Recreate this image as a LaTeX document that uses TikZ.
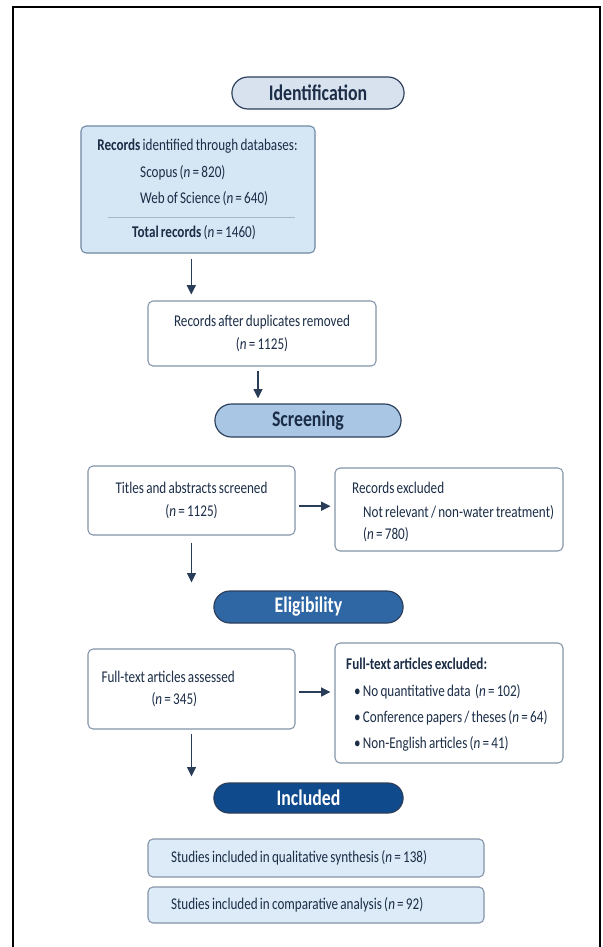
\documentclass[tikz,border=0pt]{standalone}
\usepackage{fontspec}
\setmainfont{Carlito}[FakeStretch=0.8, WordSpace=0.75]
\usetikzlibrary{positioning,shapes,arrows.meta,calc}

\definecolor{textnavy}{HTML}{1B2D47}
\definecolor{pillline}{HTML}{2B3E5A}
\definecolor{identfill}{HTML}{D8E2EE}
\definecolor{screenfill}{HTML}{A9C6E4}
\definecolor{eligfill}{HTML}{2F67A5}
\definecolor{inclfill}{HTML}{0F4A8C}
\definecolor{recsfill}{HTML}{D5E6F4}
\definecolor{recsline}{HTML}{6E88A3}
\definecolor{boxline}{HTML}{8494A8}
\definecolor{studfill}{HTML}{DCEBF7}
\definecolor{arrowcol}{HTML}{2A3D58}
\definecolor{rulecol}{HTML}{A9B8C8}

\begin{document}
\begin{tikzpicture}[
    x=0.3mm, y=-0.3mm,
    font=\fontsize{14}{19}\selectfont,
    text=textnavy,
    phase/.style={
        rounded rectangle,
        draw=pillline,
        line width=1pt,
        minimum width=59.1mm,
        minimum height=9.6mm,
        font=\fontsize{19}{20}\selectfont\bfseries
    },
    box/.style={
        rectangle,
        draw=boxline,
        line width=0.9pt,
        rounded corners=1.5mm,
        fill=white
    },
    txt/.style={inner sep=0pt},
    line/.style={draw=arrowcol, line width=1.2pt, -{Triangle[length=2.8mm,width=2.7mm]}}
]
    \useasboundingbox (0,0) rectangle (603,947);
    \draw[line width=1.6pt] (13,947) -- (13,7) -- (600,7) -- (600,947);

    % Identification
    \node[phase, fill=identfill, minimum width=54mm] (ident) at (318,93) {Identification};
    \node[box, fill=recsfill, draw=recsline, minimum width=70.2mm, minimum height=38.1mm] (recs) at (198,189.5) {};
    \node[txt] (recs-head) at (197.5,146) {\textbf{Records} identified through databases:};
    \node[txt, anchor=west] (recs-scopus) at (140,173) {Scopus (\textit{n} = 820)};
    \node[txt, anchor=west] (recs-wos) at (140,199) {Web of Science (\textit{n} = 640)};
    \draw[rulecol, line width=0.6pt] (108,217) -- (295,217);
    \node[txt] (recs-total) at (194,233) {\textbf{Total records} (\textit{n} = 1460)};
    \node[box, minimum width=68.4mm, minimum height=19.5mm, align=center] (dups) at (262,333.5)
        {Records after duplicates removed\\(\textit{n} = 1125)};

    % Screening
    \node[phase, fill=screenfill, minimum width=58.2mm, minimum height=9.9mm] (screen) at (308,420.5) {Screening};
    \node[box, minimum width=62.1mm, minimum height=20.7mm, align=center] (titles) at (191.5,500.5)
        {Titles and abstracts screened\\(\textit{n} = 1125)};
    \node[box, minimum width=68.4mm, minimum height=24.9mm] (excl1) at (449,509.5) {};
    \node[txt, anchor=west] (excl1-head) at (352,488) {Records excluded};
    \node[txt, anchor=west] (excl1-why) at (363,513) {Not relevant / non-water treatment)};
    \node[txt, anchor=west] (excl1-n) at (363,535) {(\textit{n} = 780)};

    % Eligibility
    \node[phase, fill=eligfill, text=white] (elig) at (308.5,607) {Eligibility};
    \node[box, minimum width=62.1mm, minimum height=24mm, text width=54mm, align=flush left] (full) at (191.5,689)
        {Full-text articles assessed\\\hspace*{15mm}(\textit{n} = 345)};
    \node[box, minimum width=68.4mm, minimum height=36mm] (excl2) at (449,703) {};
    \node[txt, anchor=west] (excl2-head) at (346,664) {\textbf{Full-text articles excluded:}};
    \node[txt, anchor=west] (excl2-data) at (354,692) {\textbullet\ No quantitative data~~(\textit{n} = 102)};
    \node[txt, anchor=west] (excl2-conf) at (354,718) {\textbullet\ Conference papers / theses (\textit{n} = 64)};
    \node[txt, anchor=west] (excl2-lang) at (354,744) {\textbullet\ Non-English articles (\textit{n} = 41)};

    % Included
    \node[phase, fill=inclfill, text=white, minimum height=9mm] (incl) at (308.5,798) {Included};
    \node[box, fill=studfill, minimum width=100.8mm, minimum height=11.4mm, text width=87mm, align=flush left] (stud1) at (316,858)
        {Studies included in qualitative synthesis (\textit{n} = 138)};
    \node[box, fill=studfill, minimum width=100.8mm, minimum height=10.8mm, text width=87mm, align=flush left] (stud2) at (316,905)
        {Studies included in comparative analysis (\textit{n} = 92)};

    % Connections
    \draw[line, shorten <=1.5mm, shorten >=1.8mm] ([xshift=-2mm]recs.south) -- ([xshift=-2mm]recs.south |- dups.north);
    \draw[line, shorten <=1.2mm, shorten >=1.5mm] ([xshift=-1.2mm]dups.south) -- ([xshift=-1.2mm]dups.south |- screen.north);
    \draw[line, shorten <=1mm, shorten >=1.2mm] ([yshift=-1.7mm]titles.east) -- ([yshift=-1.7mm]titles.east -| excl1.west);
    \draw[line, shorten <=2.1mm, shorten >=2.4mm] (titles.south) -- (titles.south |- elig.north);
    \draw[line, shorten <=1mm, shorten >=1.2mm] ([yshift=-0.9mm]full.east) -- ([yshift=-0.9mm]full.east -| excl2.west);
    \draw[line, shorten <=1.2mm, shorten >=1.8mm] (full.south) -- (full.south |- incl.north);
\end{tikzpicture}
\end{document}
